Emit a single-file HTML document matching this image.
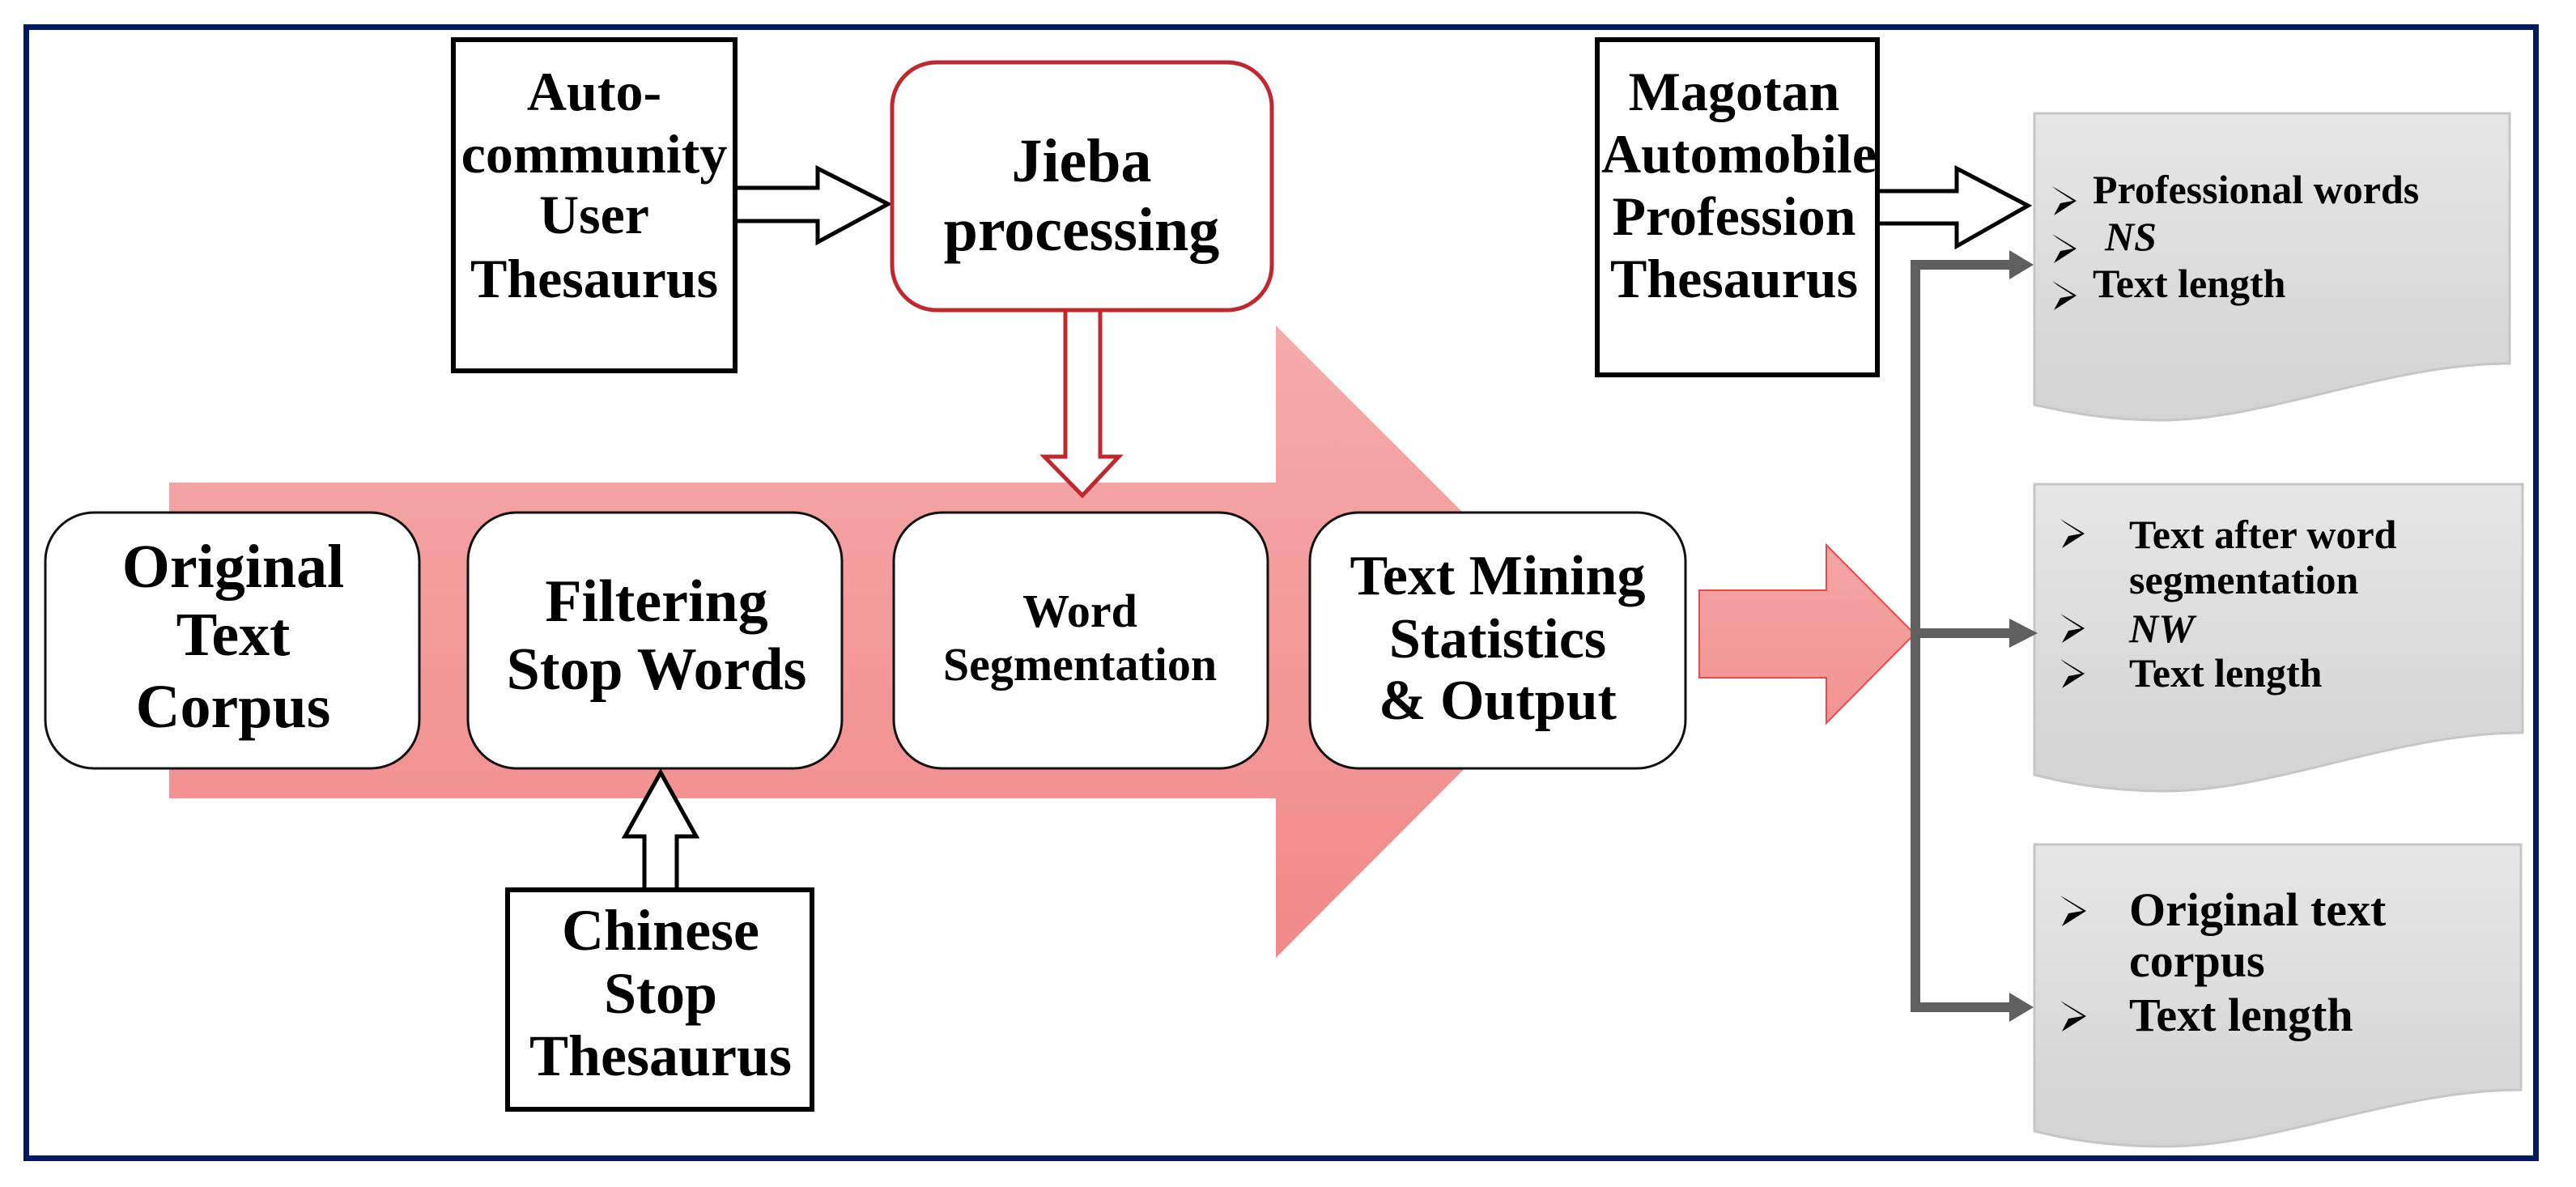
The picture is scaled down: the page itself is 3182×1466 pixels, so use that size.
<!DOCTYPE html>
<html><head><meta charset="utf-8"><style>
html,body{margin:0;padding:0;background:#fff;}
svg{display:block;}
text{font-family:"Liberation Serif",serif;font-weight:bold;fill:#000;}
</style></head><body>
<svg width="3182" height="1466" viewBox="0 0 3182 1466" xmlns="http://www.w3.org/2000/svg">
<defs>
<linearGradient id="pk" x1="0" y1="0" x2="0" y2="1">
<stop offset="0" stop-color="#f5abac"/><stop offset="1" stop-color="#f18989"/></linearGradient>
<linearGradient id="pk2" x1="0" y1="0" x2="0" y2="1">
<stop offset="0" stop-color="#f4a5a6"/><stop offset="1" stop-color="#f19393"/></linearGradient>
<linearGradient id="gr" x1="0" y1="0" x2="0" y2="1">
<stop offset="0" stop-color="#e6e6e6"/><stop offset="1" stop-color="#d3d3d3"/></linearGradient>
</defs>
<rect x="32.5" y="33.5" width="3100" height="1397" fill="#fff" stroke="#00195f" stroke-width="7"/>

<polygon points="209,596 1576,596 1576,402 1966,792 1576,1183 1576,986 209,986" fill="url(#pk)"/>

<rect x="56" y="633" width="462" height="316" rx="60" fill="#fff" stroke="#111" stroke-width="3"/>
<rect x="578" y="633" width="462" height="316" rx="60" fill="#fff" stroke="#111" stroke-width="3"/>
<rect x="1104" y="633" width="462" height="316" rx="60" fill="#fff" stroke="#111" stroke-width="3"/>
<rect x="1618" y="633" width="464" height="316" rx="60" fill="#fff" stroke="#111" stroke-width="3"/>

<text font-size="76" text-anchor="middle"><tspan x="288" y="725">Original</tspan><tspan x="288" y="809">Text</tspan><tspan x="288" y="898">Corpus</tspan></text>
<text font-size="74" text-anchor="middle"><tspan x="811" y="767">Filtering</tspan><tspan x="811" y="851">Stop Words</tspan></text>
<text font-size="58" text-anchor="middle"><tspan x="1334" y="774">Word</tspan><tspan x="1334" y="840">Segmentation</tspan></text>
<text font-size="70" text-anchor="middle"><tspan x="1850" y="734">Text Mining</tspan><tspan x="1850" y="812">Statistics</tspan><tspan x="1850" y="888">&amp; Output</tspan></text>

<polygon points="900,232 1010,232 1010,208 1097,252 1010,299 1010,273 900,273" fill="#fff" stroke="#000" stroke-width="5"/>
<rect x="560" y="49" width="348" height="409" fill="#fff" stroke="#000" stroke-width="6"/>
<text font-size="68" text-anchor="middle"><tspan x="734" y="136">Auto-</tspan><tspan x="734" y="213">community</tspan><tspan x="734" y="288">User</tspan><tspan x="734" y="367">Thesaurus</tspan></text>

<polygon points="1316,380 1316,564 1290,564 1337,612 1382,564 1359,564 1359,380" fill="#fff" stroke="#c0282d" stroke-width="5"/>
<rect x="1102" y="77" width="469" height="306" rx="55" fill="#fff" stroke="#c0282d" stroke-width="5"/>
<text font-size="76" text-anchor="middle"><tspan x="1336" y="224">Jieba</tspan><tspan x="1336" y="309">processing</tspan></text>

<polygon points="796,1102 796,1033 772,1033 816,954 860,1033 836,1033 836,1102" fill="#fff" stroke="#000" stroke-width="5"/>
<rect x="627" y="1099" width="376" height="271" fill="#fff" stroke="#000" stroke-width="6"/>
<text font-size="72" text-anchor="middle"><tspan x="816" y="1173">Chinese</tspan><tspan x="816" y="1251">Stop</tspan><tspan x="816" y="1328">Thesaurus</tspan></text>

<polygon points="2310,236 2417,236 2417,208 2505,254 2417,304 2417,276 2310,276" fill="#fff" stroke="#000" stroke-width="5"/>
<rect x="1973" y="49" width="346" height="414" fill="#fff" stroke="#000" stroke-width="6"/>
<text font-size="68" text-anchor="middle"><tspan x="2142" y="136">Magotan</tspan><tspan x="2148" y="213">Automobile</tspan><tspan x="2142" y="290">Profession</tspan><tspan x="2142" y="367">Thesaurus</tspan></text>

<polygon points="2099,729 2256,729 2256,673 2365,783 2256,893 2256,837 2099,837" fill="url(#pk2)" stroke="#ea4a4a" stroke-width="2"/>

<path d="M2513,140 H3100 V449 C2950,449 2800,519 2670,519 C2600,519 2550,508 2513,500 Z" fill="url(#gr)" stroke="#c6c6c6" stroke-width="3"/>
<path d="M2513,598 H3116 V905 C2960,905 2810,977 2675,977 C2600,977 2550,966 2513,957 Z" fill="url(#gr)" stroke="#c6c6c6" stroke-width="3"/>
<path d="M2513,1043 H3114 V1346 C2960,1346 2810,1416 2675,1416 C2600,1416 2550,1406 2513,1397 Z" fill="url(#gr)" stroke="#c6c6c6" stroke-width="3"/>

<g stroke="#5f5f5f" stroke-width="12" fill="none">
<path d="M2484,327 H2366 V1244 H2484"/>
<path d="M2366,782 H2484"/>
</g>
<g fill="#5f5f5f">
<polygon points="2482,309 2512,327 2482,345"/>
<polygon points="2482,764 2517,782 2482,800"/>
<polygon points="2482,1226 2512,1244 2482,1262"/>
</g>

<g fill="#000">
<path transform="translate(2535,230)" d="M0,0 L30,18 L2,36 L10,21 L26,18 L6,5 Z"/>
<path transform="translate(2535,289)" d="M0,0 L30,18 L2,36 L10,21 L26,18 L6,5 Z"/>
<path transform="translate(2535,347)" d="M0,0 L30,18 L2,36 L10,21 L26,18 L6,5 Z"/>
<path transform="translate(2545,641)" d="M0,0 L30,18 L2,36 L10,21 L26,18 L6,5 Z"/>
<path transform="translate(2545,758)" d="M0,0 L30,18 L2,36 L10,21 L26,18 L6,5 Z"/>
<path transform="translate(2545,814)" d="M0,0 L30,18 L2,36 L10,21 L26,18 L6,5 Z"/>
<path transform="translate(2545,1106)" d="M0,0 L32,19 L2,38 L10,22 L28,19 L6,5 Z"/>
<path transform="translate(2545,1236)" d="M0,0 L32,19 L2,38 L10,22 L28,19 L6,5 Z"/>
</g>
<text font-size="50"><tspan x="2585" y="251">Professional words</tspan><tspan x="2600" y="309" font-style="italic">NS</tspan><tspan x="2585" y="367">Text length</tspan></text>
<text font-size="50"><tspan x="2630" y="677">Text after word</tspan><tspan x="2630" y="733">segmentation</tspan><tspan x="2630" y="793" font-style="italic">NW</tspan><tspan x="2630" y="848">Text length</tspan></text>
<text font-size="58"><tspan x="2630" y="1143">Original text</tspan><tspan x="2630" y="1206">corpus</tspan><tspan x="2630" y="1273">Text length</tspan></text>
</svg>
</body></html>
